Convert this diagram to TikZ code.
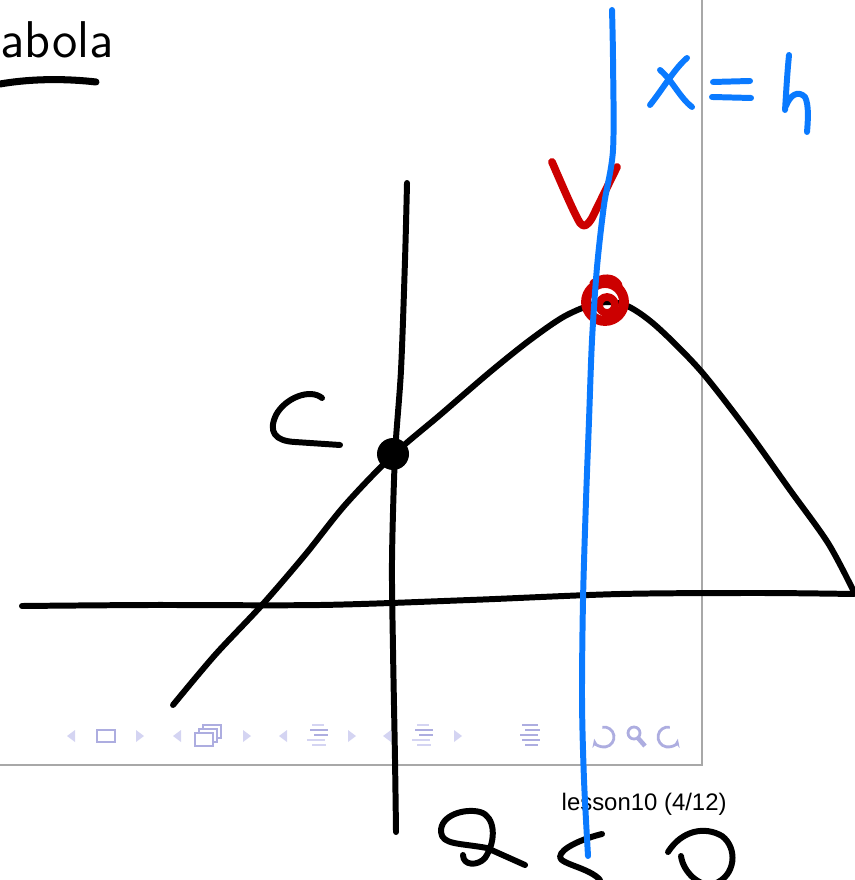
\documentclass[tikz,border=0pt]{standalone}
\usepackage{fontspec}
\newfontfamily\footfont{Liberation Sans}
\usepackage{xcolor}
\definecolor{inkred}{HTML}{CC0000}
\definecolor{inkblue}{HTML}{0A7AFF}
\definecolor{navdark}{HTML}{ADADE0}
\definecolor{navlight}{HTML}{D4D4F2}
\definecolor{framegray}{HTML}{A8A8A8}
\usepackage{tikz}
\usetikzlibrary{arrows.meta}

\begin{document}
\begin{tikzpicture}[x=0.01cm, y=-0.01cm,
    ink/.style={draw=black, line width=1.7pt, line cap=round, line join=round},
    redink/.style={draw=inkred, line width=2pt, line cap=round, line join=round},
    blueink/.style={draw=inkblue, line width=1.7pt, line cap=round, line join=round},
    navtri/.style={fill=navlight},
    navline/.style={draw=navdark, line width=0.8pt},
    navfaint/.style={draw=navlight, line width=0.8pt},
    frameline/.style={draw=framegray, line width=0.45pt}]
  \useasboundingbox (0,0) rectangle (854,880);

  % slide frame and footer
  \draw[frameline] (702,0) -- (702,765) -- (0,765);
  \node[anchor=base west, inner sep=0pt, font=\sffamily\fontsize{14.7}{17}\selectfont] (title) at (0,58) {abola};
  \node[anchor=base west, inner sep=0pt, font=\footfont\fontsize{6.8}{8}\selectfont] (footer) at (561,810) {lesson10 (4/12)};

  % navigation symbols
  \foreach \cx in {71,177,283,387}
    \fill[navtri] (\cx+4,730) -- (\cx-4,736) -- (\cx+4,742) -- cycle;
  \foreach \cx in {140,247,352,458}
    \fill[navtri] (\cx-4,730) -- (\cx+4,736) -- (\cx-4,742) -- cycle;
  \draw[navline] (97,730) rectangle (115,742);
  \foreach \dx/\dy in {8/-8,4/-4,0/0}
    \draw[navline, fill=white] (195+\dx,733+\dy) rectangle (213+\dx,746+\dy);
  \foreach \cx in {318,423} {
    \draw[navfaint] (\cx-6,725) -- (\cx+6,725);
    \draw[navline] (\cx-8,730) -- (\cx+10,730);
    \draw[navline] (\cx-4,735) -- (\cx+10,735);
    \draw[navfaint] (\cx-11,740) -- (\cx+7,740);
    \draw[navfaint] (\cx-6,745) -- (\cx+8,745);
  }
  \foreach \ly/\la/\lb in {725/522/538,730/525/540,735/520/538,740/522/540,745/525/538}
    \draw[navline] (\la,\ly) -- (\lb,\ly);
  \draw[navline, -{Stealth[length=2.5pt]}] (604,737) ++(-100:10) arc[start angle=-100, end angle=170, radius=10];
  \draw[navline] (634,733) circle[radius=6];
  \draw[navline, line width=1.3pt] (638,738) -- (645,746);
  \draw[navline, -{Stealth[length=2.5pt]}] (668,737) ++(-80:10) arc[start angle=-80, end angle=-350, radius=10];

  % black ink: underline, axes, curve, intercept
  \draw[ink, line width=2pt] (0,84) .. controls (35,78) and (70,79) .. (96,82);
  \draw[ink] plot[smooth] coordinates {(22,606) (150,605) (320,605) (470,600) (620,594) (760,593) (854,594)};
  \draw[ink] plot[smooth] coordinates {(407,183) (405,260) (401,370) (395,455) (392,560) (393,650) (395,760) (396,832)};
  \draw[ink] plot[smooth] coordinates {(173,705) (215,655) (262,605) (305,555) (345,505) (393,455) (440,415)
    (490,372) (530,340) (565,316) (598,303) (625,305) (655,325) (700,370) (747,430) (790,490) (828,543) (853,590)};
  \fill (393,454) circle[radius=16];
  \draw[ink] (322,398) .. controls (310,388) and (285,398) .. (276,415) .. controls (268,432) and (275,441) .. (295,442) -- (340,445);

  % a < 0
  \draw[ink] (525,865) -- (487,848) .. controls (460,843) and (442,845) .. (441,832)
    .. controls (440,815) and (465,808) .. (480,812) .. controls (495,816) and (497,840) .. (485,858)
    .. controls (478,866) and (463,866) .. (463,855);
  \draw[ink] (602,834) .. controls (585,838) and (560,848) .. (560,857) .. controls (560,864) and (590,868) .. (600,880);
  \draw[ink] (668,852) .. controls (682,830) and (705,826) .. (722,836) .. controls (738,848) and (736,876) .. (714,884)
    .. controls (700,888) and (683,872) .. (681,856);

  % red ink: vertex
  \draw[redink, line width=2.2pt] (552,162) .. controls (565,192) and (575,215) .. (580,223) .. controls (584,228) and (587,226) .. (592,218) -- (617,167);
  \draw[redink, line width=2.8pt] (605,302) circle[radius=19];
  \draw[redink, line width=2.2pt] (607,305) circle[radius=8];
  \draw[redink] (593,283) .. controls (602,276) and (614,276) .. (619,285);

  % blue ink: axis of symmetry
  \draw[blueink] plot[smooth] coordinates {(612,10) (613,60) (613,150) (604,205) (597,267) (592,340) (589,420)
    (586,500) (583,600) (582,700) (584,780) (588,856)};
  \draw[blueink] (687,58) .. controls (675,68) and (662,90) .. (650,105);
  \draw[blueink] (660,70) .. controls (672,80) and (680,98) .. (692,107);
  \draw[blueink] (713,82) -- (750,81);
  \draw[blueink] (712,97) -- (751,98);
  \draw[blueink] (789,55) .. controls (787,75) and (786,95) .. (785,110);
  \draw[blueink] (786,106) .. controls (790,95) and (798,90) .. (805,97) .. controls (809,105) and (808,120) .. (807,132);
\end{tikzpicture}
\end{document}
